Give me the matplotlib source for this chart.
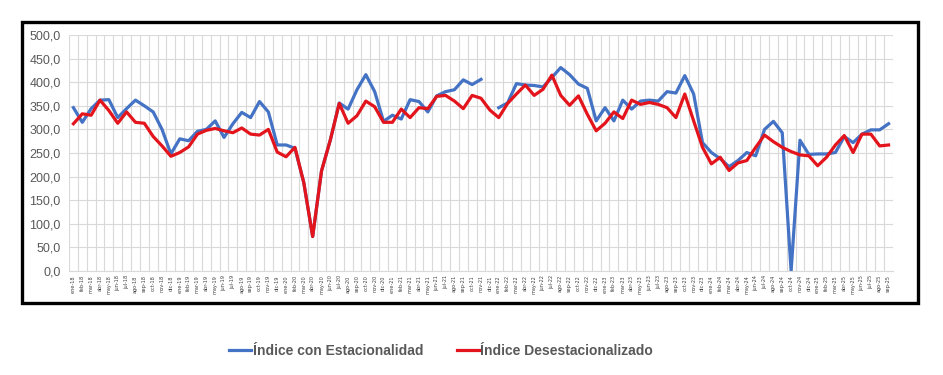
import numpy as np
import matplotlib.pyplot as plt
from matplotlib.patches import Rectangle
from matplotlib.ticker import FuncFormatter

meses = ['ene', 'feb', 'mar', 'abr', 'may', 'jun', 'jul', 'ago', 'sep', 'oct', 'nov', 'dic']
anios = ['18', '19', '20', '21', '22', '23', '24', '25']
etiquetas = [m + '-' + a for a in anios for m in meses][:93]   # ene-18 .. sep-25

nan = np.nan
estacional = [346, 315, 344, 362, 363, 325, 344, 362, 350, 337,
              300, 248, 280, 276, 296, 300, 318, 283, 312, 336,
              325, 359, 337, 267, 267, 260, 187, 73, 212, 278,
              356, 343, 384, 416, 380, 317, 330, 322, 363, 359,
              337, 371, 380, 384, 405, 395, 406, nan, 346, 356,
              397, 394, 393, 390, 410, 431, 416, 396, 387, 318,
              346, 318, 362, 343, 360, 362, 360, 380, 377, 414,
              375, 272, 251, 238, 221, 234, 251, 244, 300, 317,
              293, 0, 277, 247, 248, 248, 251, 285, 272, 290,
              299, 299, 312]
desest = [312, 333, 330, 362, 340, 313, 337, 315, 313, 285,
          265, 243, 251, 263, 290, 298, 302, 297, 293, 303,
          290, 288, 300, 252, 242, 262, 187, 73, 212, 278,
          355, 313, 329, 360, 348, 315, 315, 343, 325, 346,
          344, 370, 372, 360, 344, 372, 366, 341, 325, 355,
          375, 394, 372, 385, 415, 372, 351, 371, 332, 297,
          313, 337, 323, 362, 353, 357, 353, 346, 325, 375,
          318, 262, 227, 241, 213, 229, 234, 262, 288, 274,
          262, 253, 246, 244, 223, 241, 267, 287, 251, 290,
          290, 265, 267]

gris = '#595959'
fig = plt.figure(figsize=(9.43, 3.75), dpi=100)
ax = fig.add_axes([69/943, 1-271/375, 824/943, 236/375])

x = np.arange(len(etiquetas))
ax.plot(x, estacional, color='#4472C4', lw=2.3, label='Índice con Estacionalidad', zorder=3)
ax.plot(x, desest, color='#E3141B', lw=2.3, label='Índice Desestacionalizado', zorder=4)

ax.set_xlim(-0.5, len(etiquetas)-0.5)
ax.set_ylim(0, 500)
ax.set_yticks(np.arange(0, 501, 50))
ax.yaxis.set_major_formatter(FuncFormatter(lambda v, p: f'{v:.1f}'.replace('.', ',')))
ax.set_xticks(x)
ax.set_xticklabels(etiquetas, rotation=90, fontsize=3.6, color='#404040')
ax.set_xticks(np.arange(-0.5, len(etiquetas), 1), minor=True)
ax.tick_params(axis='x', which='both', length=0, pad=3)
ax.tick_params(axis='y', length=0, pad=6, labelsize=9, labelcolor=gris)
for lab in ax.get_yticklabels():
    lab.set_family('Liberation Sans')

ax.grid(axis='y', which='major', color='#d9d9d9', lw=0.8)
ax.grid(axis='x', which='minor', color='#d9d9d9', lw=0.8)
for s in ['top', 'right', 'left']:
    ax.spines[s].set_visible(False)
ax.spines['bottom'].set_color('#d9d9d9')

# marco negro alrededor del grafico
fig.patches.append(Rectangle((22/943, 1-303/375), 896/943, 281/375, transform=fig.transFigure,
                             fill=False, ec='black', lw=2.4))

leg = fig.legend(loc='center', bbox_to_anchor=(441/943, 1-351/375), ncol=2, frameon=False,
                 handlelength=1.6, handletextpad=0.1, columnspacing=2.4,
                 prop={'family': 'Liberation Sans', 'weight': 'bold', 'size': 10})
for t in leg.get_texts():
    t.set_color(gris)

fig.savefig('out.png', dpi=100)
